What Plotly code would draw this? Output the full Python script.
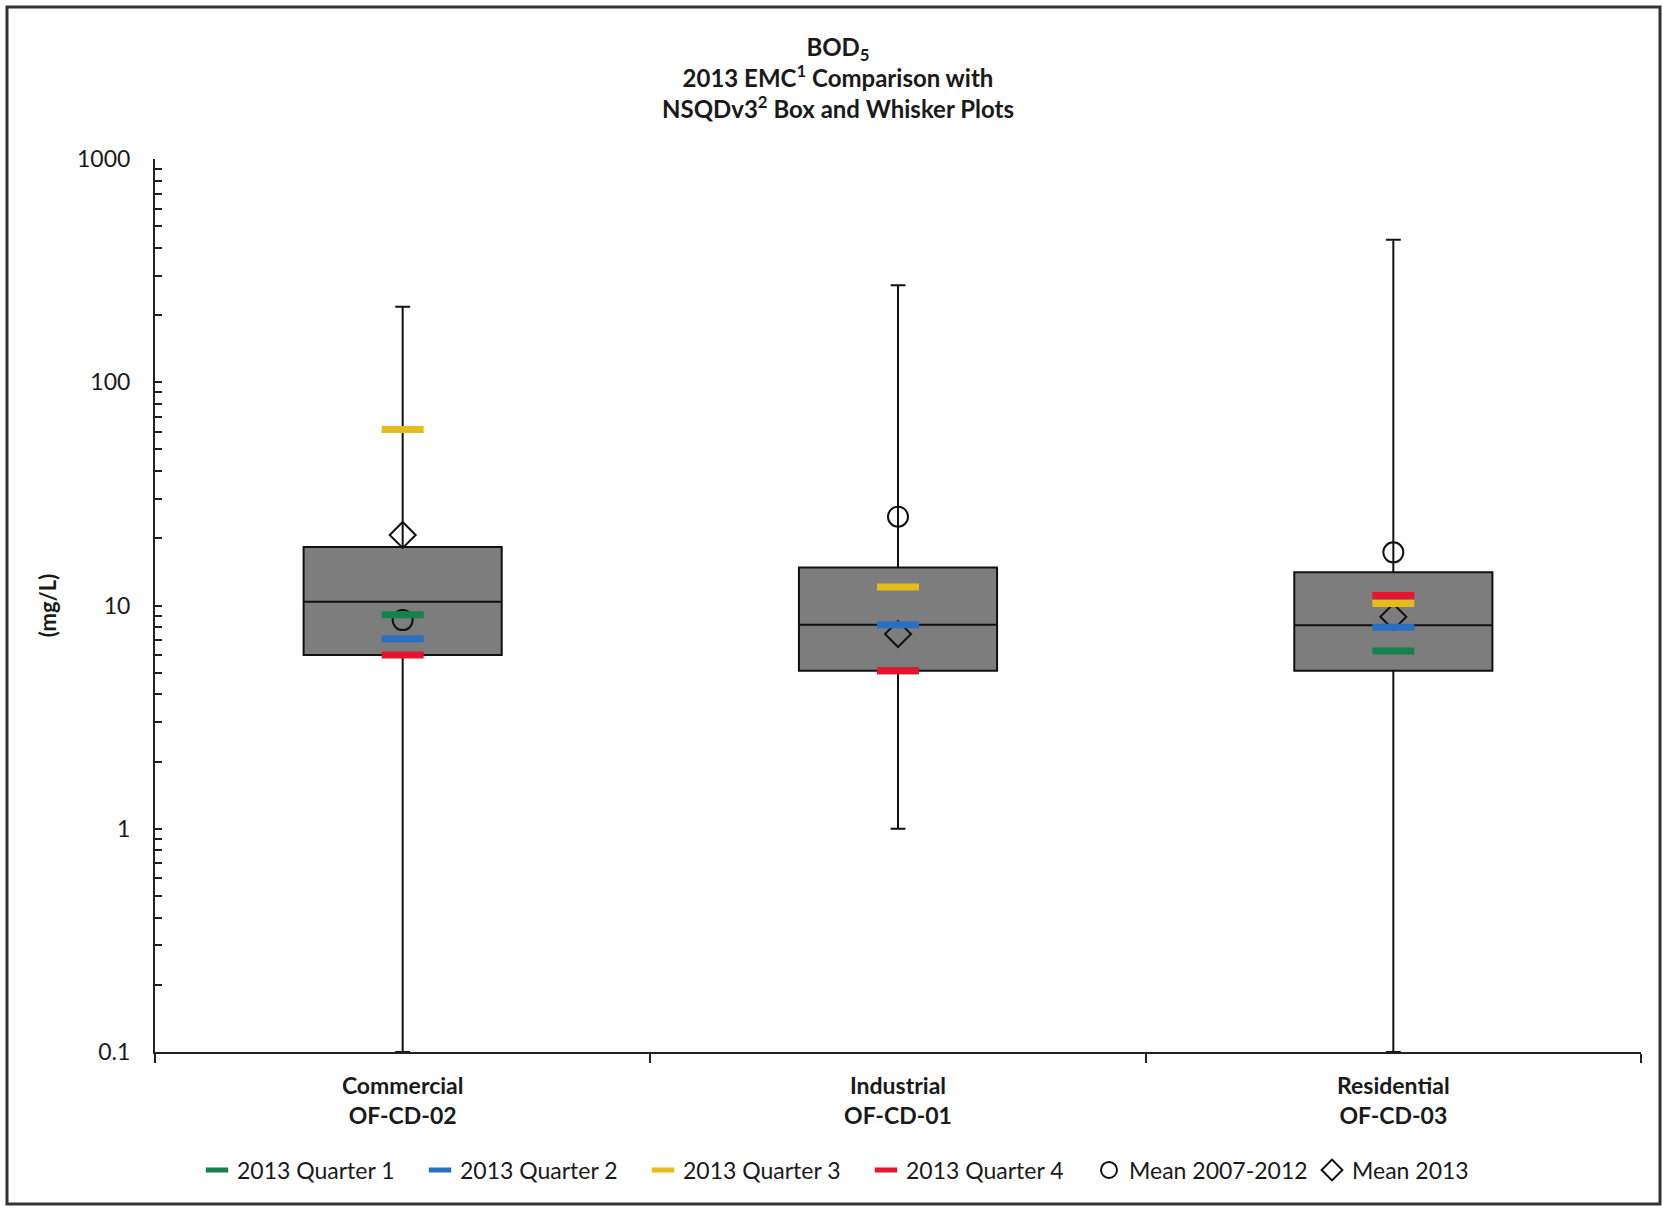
import plotly.graph_objects as go

# ---------------- data ----------------
categories = ["<b>Commercial<br>OF-CD-02</b>", "<b>Industrial<br>OF-CD-01</b>", "<b>Residential<br>OF-CD-03</b>"]

# NSQDv3 box-and-whisker statistics (mg/L)
box_lower = [0.1, 1.0, 0.1]
box_q1 = [6.0, 5.1, 5.1]
box_median = [10.4, 8.2, 8.15]
box_q3 = [18.3, 14.8, 14.1]
box_upper = [218, 272, 435]

# 2013 EMCs (mg/L)
q1_2013 = [9.1, 5.1, 6.25]
q2_2013 = [7.1, 8.2, 8.0]
q3_2013 = [61.5, 12.1, 10.2]
q4_2013 = [6.0, 5.1, 11.1]
mean_2007_2012 = [8.6, 25.0, 17.3]
mean_2013 = [20.7, 7.45, 8.9]

tick_vals = [0.1, 1, 10, 100, 1000]
tick_text = ["0.1", "1", "10", "100", "1000"]

# ---------------- figure ----------------
W, H = 1663, 1209
ML, MR, MT, MB = 155, 22, 159, 157
FONT = "Lato, 'Open Sans', sans-serif"

fig = go.Figure()

fig.add_trace(go.Box(
    x=categories, q1=box_q1, median=box_median, q3=box_q3,
    lowerfence=box_lower, upperfence=box_upper,
    boxpoints=False, width=0.4, whiskerwidth=0.075,
    fillcolor="#7d7d7d", line=dict(color="#111111", width=2),
    showlegend=False, hoverinfo="skip",
))

fig.add_trace(go.Scatter(
    x=categories, y=mean_2007_2012, mode="markers", name="Mean 2007-2012",
    marker=dict(symbol="circle-open", size=20, color="#111111", line=dict(width=2)),
    legendrank=5,
))
fig.add_trace(go.Scatter(
    x=categories, y=mean_2013, mode="markers", name="Mean 2013",
    marker=dict(symbol="diamond-open", size=20, color="#111111", line=dict(width=2)),
    legendrank=6,
))

quarters = [
    ("2013 Quarter 1", q1_2013, "#17804d"),
    ("2013 Quarter 2", q2_2013, "#2b6fc2"),
    ("2013 Quarter 3", q3_2013, "#e4bd1c"),
    ("2013 Quarter 4", q4_2013, "#e8132f"),
]
for i, (name, vals, col) in enumerate(quarters):
    fig.add_trace(go.Scatter(
        x=categories, y=vals, mode="markers", name=name,
        marker=dict(symbol="line-ew-open", size=30, color=col, line=dict(width=7, color=col)),
        legendrank=i + 1,
    ))

def px_to_paper_x(px):
    return (px - ML) / (W - ML - MR)

def px_to_paper_y(py):
    return 1 - (py - MT) / (H - MT - MB)

fig.update_layout(
    width=W, height=H,
    margin=dict(l=ML, r=MR, t=MT, b=MB, autoexpand=False),
    paper_bgcolor="white", plot_bgcolor="white",
    font=dict(family=FONT, color="#1a1a1a", size=22),
    title=dict(
        text="<b>BOD<sub>5</sub></b><br><b>2013 EMC<sup>1</sup> Comparison with</b><br><b>NSQDv3<sup>2</sup> Box and Whisker Plots</b>",
        x=838 / W, xanchor="center", y=1 - 56 / H, yanchor="top",
        font=dict(family=FONT, size=24, color="#1a1a1a"),
    ),
    xaxis=dict(
        type="category", range=[-0.5, 2.5], tickson="boundaries",
        ticks="outside", ticklen=9, tickwidth=2, tickcolor="#222",
        showline=True, linecolor="#222", linewidth=2,
        showgrid=False, zeroline=False,
        tickfont=dict(family=FONT, size=23, color="#1a1a1a"),
        ticklabelstandoff=12,
    ),
    yaxis=dict(
        type="log", range=[-1, 3],
        tickvals=tick_vals, ticktext=tick_text,
        ticks="inside", ticklen=7, tickwidth=2, tickcolor="#222",
        minor=dict(ticks="inside", ticklen=7, tickwidth=1.5, tickcolor="#222", dtick="D1", showgrid=False),
        showline=True, linecolor="#222", linewidth=2,
        showgrid=False, zeroline=False,
        tickfont=dict(family=FONT, size=23, color="#1a1a1a"),
        ticklabelstandoff=18,
        title=dict(text="<b>(mg/L)</b>", font=dict(family=FONT, size=22, color="#1a1a1a"), standoff=14),
    ),
    legend=dict(
        orientation="h", x=px_to_paper_x(866), xanchor="center",
        y=px_to_paper_y(1170), yanchor="middle",
        font=dict(family=FONT, size=23, color="#1a1a1a"),
        itemsizing="trace", traceorder="normal",
        entrywidth=178, entrywidthmode="pixels",
        bgcolor="rgba(0,0,0,0)",
    ),
    shapes=[dict(
        type="rect", xref="paper", yref="paper",
        x0=px_to_paper_x(7), x1=px_to_paper_x(1660),
        y0=px_to_paper_y(1204), y1=px_to_paper_y(7),
        line=dict(color="#333333", width=3), fillcolor="rgba(0,0,0,0)", layer="below",
    )],
)

fig.write_html(
    "out.html",
    config={"displayModeBar": False},
    post_script="document.body.style.margin='0';document.body.style.overflow='hidden';",
)
